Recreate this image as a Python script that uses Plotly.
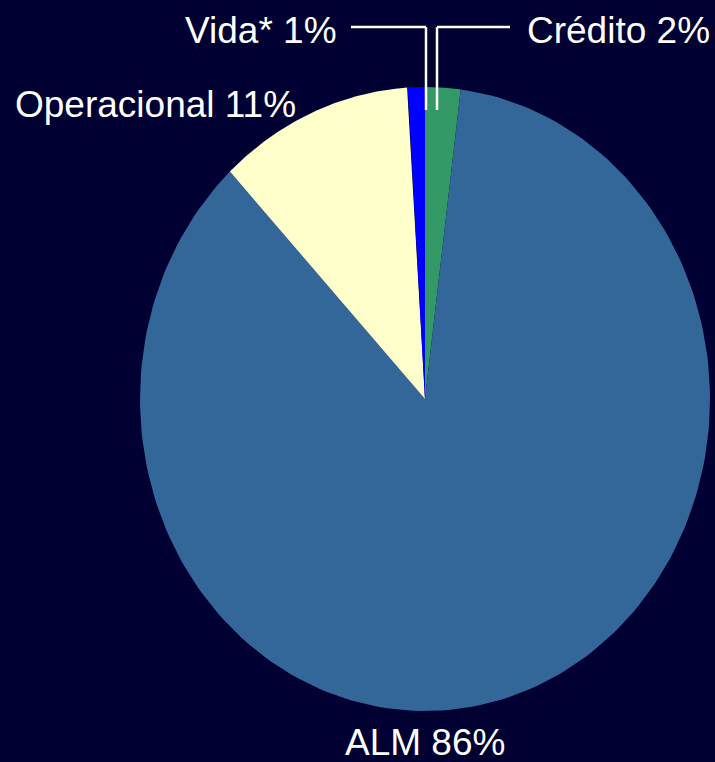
#######
# Risk capital split (ALM, Operacional, Vida, Crédito) drawn as a stretched pie on a dark navy page.
######

import numpy as np
import plotly.graph_objs as go

labels = ['Crédito', 'ALM', 'Operacional', 'Vida*']
values = [2, 86, 11, 1]
colors = ['#339966', '#336699', '#FFFFCC', '#0000FF']

W, H = 715, 762
cx, cy = 425, 399      # centre of the pie in page pixels
rx, ry = 285, 312      # the pie is a bit taller than wide

fig = go.Figure()

total = float(sum(values))
start = 0.0
for lab, val, col in zip(labels, values, colors):
    end = start + val / total
    t = np.linspace(start, end, 200) * 2 * np.pi   # clockwise from 12 o'clock
    xs = [cx] + list(cx + rx * np.sin(t)) + [cx]
    ys = [cy] + list(cy - ry * np.cos(t)) + [cy]
    fig.add_trace(go.Scatter(
        x=xs, y=ys, mode='lines', fill='toself',
        fillcolor=col, line=dict(width=0, color=col),
        name=lab, hoverinfo='name', showlegend=False
    ))
    start = end

def pct(lab):
    return '%s %d%%' % (lab, values[labels.index(lab)])

font = dict(family='Liberation Sans, Arial, sans-serif', size=37, color='white')
notes = [
    ('Vida*', 339, 30, 'right'),
    ('Crédito', 525, 30, 'left'),
    ('Operacional', 13, 104, 'left'),
    ('ALM', 425, 742, 'center'),
]
for lab, x, y, anchor in notes:
    fig.add_annotation(x=x, y=y, xref='x', yref='y', text=pct(lab),
                       showarrow=False, xanchor=anchor, yanchor='middle', font=font)

# leader lines for the two thin slices
line = dict(color='white', width=2.5)
fig.add_shape(type='line', x0=351, y0=27, x1=426, y1=27, xref='x', yref='y', line=line)
fig.add_shape(type='line', x0=426, y0=27, x1=426, y1=110, xref='x', yref='y', line=line)
fig.add_shape(type='line', x0=437, y0=27, x1=510, y1=27, xref='x', yref='y', line=line)
fig.add_shape(type='line', x0=437, y0=27, x1=437, y1=110, xref='x', yref='y', line=line)

fig.update_layout(
    width=W, height=H,
    margin=dict(l=0, r=0, t=0, b=0),
    paper_bgcolor='#000033', plot_bgcolor='#000033',
    xaxis=dict(range=[0, W], visible=False, fixedrange=True),
    yaxis=dict(range=[H, 0], visible=False, fixedrange=True),
    showlegend=False,
)
# drop the browser's default page margin so the figure sits at the top-left corner
fig.write_html('out.html', config={'displayModeBar': False}, post_script=(
    "document.body.style.margin='0';"
    "document.body.style.background='#000033';"
    "document.body.style.overflow='hidden';"
))
